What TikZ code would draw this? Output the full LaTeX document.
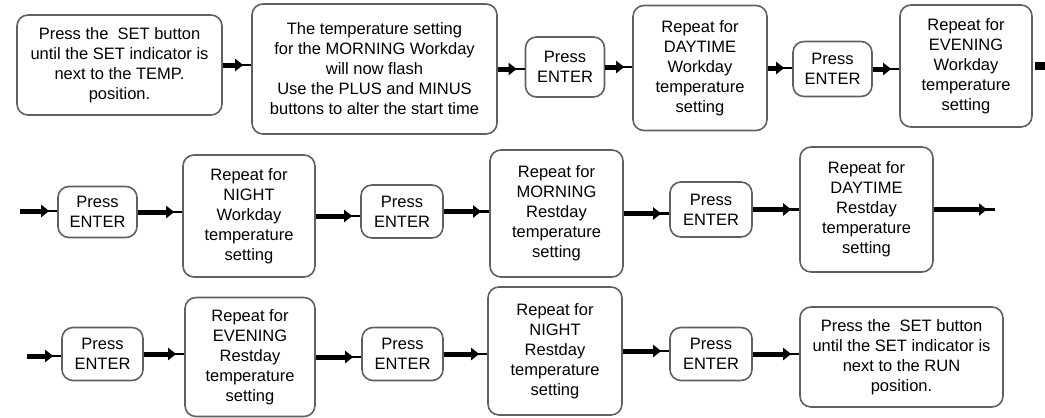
\documentclass[tikz,border=0pt]{standalone}
\usepackage{fontspec}
\setmainfont{Liberation Sans}
\usetikzlibrary{arrows.meta,calc}
\definecolor{boxgray}{HTML}{606060}
\tikzset{
  x=1pt, y=-1pt,
  box/.style={draw=boxgray, line width=1.6pt, rounded corners=11pt, align=center,
    inner sep=0pt, font=\fontsize{16.5}{20}\selectfont},
  conn/.style={line width=5pt, -{Triangle[length=8pt,width=12pt]}},
  tail/.style={line width=2.5pt}
}
\newcommand\link[2]{%
  \draw[conn] (#1.east) -- ($(#1.east -| #2.west)+(-8,0)$);
  \draw[tail] ($(#1.east -| #2.west)+(-10,0)$) -- (#1.east -| #2.west);}
\begin{document}
\begin{tikzpicture}
\useasboundingbox (0,0) rectangle (1045,418);
% row 1
\node[box, minimum width=205pt, minimum height=100pt] (A) at (119.5,65) {Press the\ \ SET button\\until the SET indicator is\\next to the TEMP.\\position.};
\node[box, minimum width=245pt, minimum height=130pt] (B) at (374.5,69) {The temperature setting\\for the MORNING Workday\\will now flash\\Use the PLUS and MINUS\\buttons to alter the start time};
\node[box, minimum width=79pt, minimum height=60pt] (P1) at (565,67) {Press\\ENTER};
\node[box, minimum width=134pt, minimum height=125pt] (C) at (700,68) {Repeat for\\DAYTIME\\Workday\\temperature\\setting};
\node[box, minimum width=79pt, minimum height=55pt] (P2) at (832.5,69) {Press\\ENTER};
\node[box, minimum width=132pt, minimum height=122pt] (D) at (966,66) {Repeat for\\EVENING\\Workday\\temperature\\setting};
\coordinate (r1out) at (1045,67);
% row 2
\coordinate (r2in) at (20,211);
\node[box, minimum width=79pt, minimum height=51pt] (P3) at (97.5,212) {Press\\ENTER};
\node[box, minimum width=132pt, minimum height=122pt] (E) at (249,216) {Repeat for\\NIGHT\\Workday\\temperature\\setting};
\node[box, minimum width=82pt, minimum height=53pt] (P4) at (402,211.5) {Press\\ENTER};
\node[box, minimum width=133pt, minimum height=127pt] (F) at (556.5,213.5) {Repeat for\\MORNING\\Restday\\temperature\\setting};
\node[box, minimum width=82pt, minimum height=55pt] (P5) at (711,209.5) {Press\\ENTER};
\node[box, minimum width=133pt, minimum height=125pt] (G) at (866.5,209.5) {Repeat for\\DAYTIME\\Restday\\temperature\\setting};
\coordinate (r2out) at (995,210);
% row 3
\coordinate (r3in) at (27,356);
\node[box, minimum width=81pt, minimum height=53pt] (P6) at (102.5,354) {Press\\ENTER};
\node[box, minimum width=130pt, minimum height=119pt] (H) at (250,357) {Repeat for\\EVENING\\Restday\\temperature\\setting};
\node[box, minimum width=81pt, minimum height=53pt] (P7) at (402.5,354) {Press\\ENTER};
\node[box, minimum width=134pt, minimum height=128pt] (I) at (555,351) {Repeat for\\NIGHT\\Restday\\temperature\\setting};
\node[box, minimum width=82pt, minimum height=53pt] (P8) at (711,354) {Press\\ENTER};
\node[box, minimum width=203pt, minimum height=100pt] (J) at (901.5,357) {Press the\ \ SET button\\until the SET indicator is\\next to the RUN\\position.};
% connectors
\link{A}{B}
\link{B}{P1}
\link{P1}{C}
\link{C}{P2}
\link{P2}{D}
\draw[line width=8pt] ([xshift=2pt]D.east) -- (D.east -| r1out);
\link{r2in}{P3}
\link{P3}{E}
\link{E}{P4}
\link{P4}{F}
\link{F}{P5}
\link{P5}{G}
\draw[conn] (G.east) -- ($(G.east -| r2out)+(-8,0)$);
\draw[tail] ($(G.east -| r2out)+(-10,0)$) -- (G.east -| r2out);
\link{r3in}{P6}
\link{P6}{H}
\link{H}{P7}
\link{P7}{I}
\link{I}{P8}
\link{P8}{J}
\end{tikzpicture}
\end{document}
